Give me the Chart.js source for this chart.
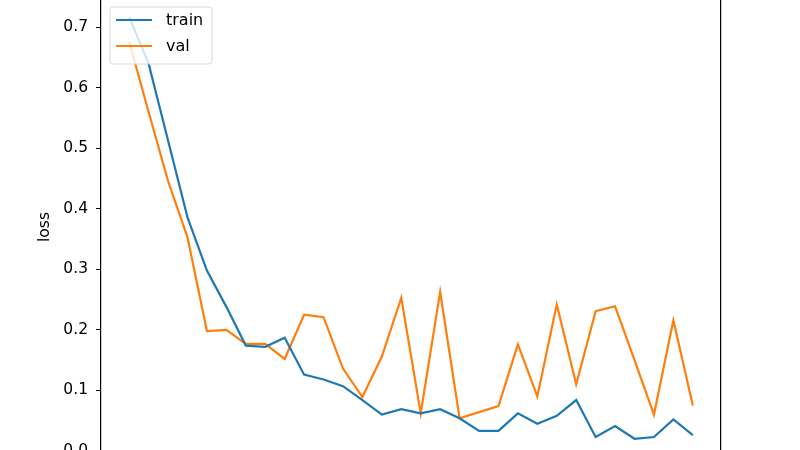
<!DOCTYPE html>
<html>
<head>
<meta charset="utf-8">
<script src="https://cdn.jsdelivr.net/npm/chart.js@4.4.1/dist/chart.umd.min.js"></script>
<style>
    html, body { margin: 0; padding: 0; background: #ffffff; overflow: hidden; }
    #wrap { position: absolute; left: 0; top: -29px; width: 800px; height: 512px; }
</style>
</head>
<body>
<div id="wrap"><canvas id="lossChart"></canvas></div>
<script>
// epochs 0..29
const epochs = Array.from({ length: 30 }, (_, i) => i);

const trainLoss = [
    0.717, 0.640, 0.513, 0.386, 0.298, 0.238, 0.174, 0.172, 0.187, 0.126,
    0.118, 0.107, 0.084, 0.060, 0.069, 0.062, 0.069, 0.054, 0.033, 0.033,
    0.062, 0.045, 0.058, 0.084, 0.023, 0.041, 0.020, 0.023, 0.052, 0.026
];

const valLoss = [
    0.676, 0.560, 0.446, 0.353, 0.198, 0.200, 0.177, 0.177, 0.152, 0.225,
    0.221, 0.136, 0.089, 0.156, 0.253, 0.062, 0.263, 0.054, 0.064, 0.074,
    0.176, 0.090, 0.242, 0.110, 0.231, 0.239, 0.150, 0.060, 0.216, 0.075
];

const yTicks = [0.0, 0.1, 0.2, 0.3, 0.4, 0.5, 0.6, 0.7];

const FONT = "'DejaVu Sans', sans-serif";

// matplotlib-style legend box inside the plot, upper left
const boxLegend = {
    id: 'boxLegend',
    afterDatasetsDraw(chart) {
        const { ctx, chartArea } = chart;
        const x = chartArea.left + 9;
        const y = 36;  // canvas is shifted up by 29px
        const w = 102, h = 57;
        ctx.save();
        ctx.beginPath();
        ctx.roundRect(x, y, w, h, 3);
        ctx.fillStyle = 'rgba(255,255,255,0.8)';
        ctx.fill();
        ctx.strokeStyle = '#d9d9d9';
        ctx.lineWidth = 1;
        ctx.stroke();

        ctx.font = '16px ' + FONT;
        ctx.textBaseline = 'middle';
        chart.data.datasets.forEach((ds, i) => {
            const ly = y + 13 + i * 26;
            ctx.beginPath();
            ctx.moveTo(x + 6, ly);
            ctx.lineTo(x + 42, ly);
            ctx.strokeStyle = ds.borderColor;
            ctx.lineWidth = 2.2;
            ctx.stroke();
            ctx.fillStyle = '#000000';
            ctx.fillText(ds.label, x + 56, ly + 1);
        });
        ctx.restore();
    }
};

new Chart(document.getElementById('lossChart'), {
    type: 'line',
    data: {
        labels: epochs,
        datasets: [
            {
                label: 'train',
                data: trainLoss,
                borderColor: '#1f77b4',
                borderWidth: 2.2,
                pointRadius: 0,
                tension: 0,
                fill: false
            },
            {
                label: 'val',
                data: valLoss,
                borderColor: '#ff7f0e',
                borderWidth: 2.2,
                pointRadius: 0,
                tension: 0,
                fill: false
            }
        ]
    },
    options: {
        responsive: true,
        maintainAspectRatio: false,
        animation: false,
        layout: {
            padding: { left: 32, right: 79, top: 20, bottom: 20 }
        },
        plugins: {
            legend: { display: false },
            tooltip: { enabled: false }
        },
        scales: {
            x: {
                type: 'linear',
                min: -1.45,
                max: 30.45,
                display: false
            },
            y: {
                min: -0.02,
                max: 0.76,
                afterFit(scale) { scale.width = 69; },
                afterBuildTicks(scale) {
                    scale.ticks = yTicks.map(v => ({ value: v }));
                },
                border: { display: true, color: '#000000', width: 1.2 },
                grid: {
                    display: true,
                    drawOnChartArea: false,
                    drawTicks: true,
                    tickLength: 5,
                    tickColor: '#000000'
                },
                ticks: {
                    padding: 8,
                    color: '#000000',
                    font: { family: FONT, size: 15.5 },
                    callback: v => v.toFixed(1)
                },
                title: {
                    display: true,
                    text: 'loss',
                    color: '#000000',
                    font: { family: FONT, size: 15.5 },
                    padding: { top: 4, bottom: 4 }
                }
            },
            yRight: {
                position: 'right',
                min: -0.02,
                max: 0.76,
                afterFit(scale) { scale.width = 0; },
                border: { display: true, color: '#000000', width: 1.2 },
                grid: { display: false },
                ticks: { display: false }
            }
        }
    },
    plugins: [boxLegend]
});
</script>
</body>
</html>
